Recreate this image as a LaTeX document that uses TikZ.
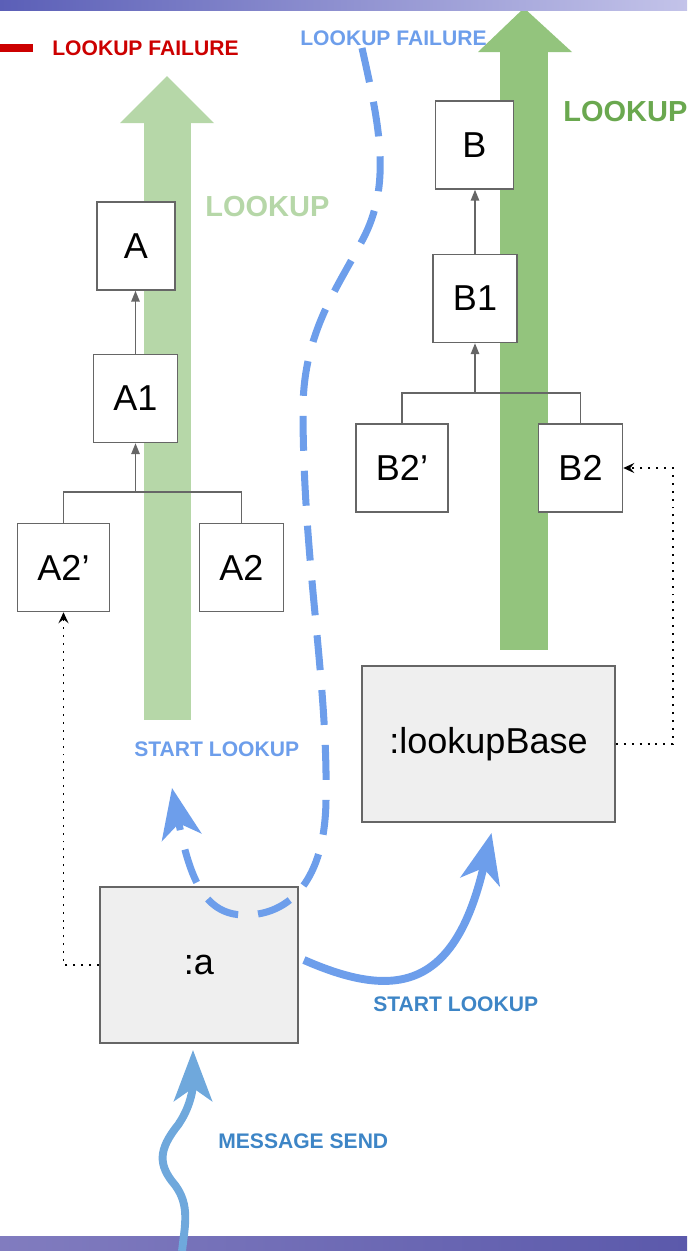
\documentclass[tikz,border=0pt]{standalone}
\usepackage{fontspec}
\setmainfont{Liberation Sans}
\usetikzlibrary{arrows.meta, calc}

\definecolor{boxgray}{HTML}{666666}
\definecolor{objfill}{HTML}{EFEFEF}
\definecolor{lookupgreen}{HTML}{93C47D}
\definecolor{lookuptext}{HTML}{6AA84F}
\definecolor{lookuplight}{HTML}{B6D7A8}
\definecolor{callblue}{HTML}{6D9EEB}
\definecolor{sendblue}{HTML}{6FA8DC}
\definecolor{textblue}{HTML}{3D85C6}
\definecolor{failred}{HTML}{CC0000}
\definecolor{barleft}{HTML}{5B5FB7}
\definecolor{barright}{HTML}{C3C3E9}
\definecolor{footleft}{HTML}{817CBF}
\definecolor{footright}{HTML}{5B59AB}

\tikzset{
    class-box/.style={
        draw=boxgray, fill=white, line width=0.85pt, inner xsep=0.4cm,
        minimum width=1.56cm, minimum height=1.76cm,
        font=\fontsize{20.5pt}{24pt}\selectfont
    },
    object-box/.style={
        draw=boxgray, fill=objfill, line width=1.1pt,
        minimum height=3.12cm, font=\fontsize{20.5pt}{24pt}\selectfont
    },
    tree-line/.style={draw=boxgray, line width=0.85pt},
    tree-arrow/.style={tree-line, -{Triangle[length=0.22cm, width=0.17cm]}},
    dotted-link/.style={
        draw=black, line width=1.1pt, dash pattern=on 1.1pt off 3.4pt,
        -{Stealth[length=0.22cm, width=0.2cm, inset=0.08cm]}
    },
    lookup-call/.style={
        draw=callblue, line width=4.5pt,
        -{Stealth[length=1cm, width=0.8cm, inset=0.28cm]}
    },
    message-send/.style={
        draw=sendblue, line width=4.5pt,
        -{Stealth[length=1.02cm, width=0.76cm, inset=0.26cm]}
    },
    failure-path/.style={
        draw=callblue, line width=4pt, dash pattern=on 0.7cm off 0.4cm,
        -{Stealth[length=1cm, width=0.8cm, inset=0.28cm]}
    },
    small-label/.style={anchor=west, inner sep=0, font=\fontsize{12pt}{14pt}\bfseries\selectfont},
    big-label/.style={anchor=west, inner sep=0, font=\fontsize{16.5pt}{19pt}\bfseries\selectfont},
}

\begin{document}
\begin{tikzpicture}[x=0.02cm, y=-0.02cm]
        \useasboundingbox (0,0) rectangle (687,1251);

        % LOOKUP ARROWS
        \fill[lookuplight]  (144,123) rectangle (191,720);
        \fill[lookuplight]  (120,123) -- (167,76) -- (214,123) -- cycle;
        \fill[lookupgreen]  (500,52) rectangle (548,650);
        \fill[lookupgreen]  (478,52) -- (524,8) -- (572,52) -- cycle;

        % BARS
        \shade[left color=barleft, right color=barright]   (0,0) rectangle (687,10);
        \shade[left color=footleft, right color=footright] (0,1236) rectangle (687,1251);

        % LABELS
        \draw[failred, line width=4.5pt]                     (0,48) -- (33,48);
        \node[small-label, text=failred]    (FAILLEGEND)  at (52,48)    {LOOKUP FAILURE};
        \node[small-label, text=callblue]   (FAILLABEL)   at (300,38)   {LOOKUP FAILURE};
        \node[big-label, text=lookuptext]   (LOOKUPB)     at (563,112)  {LOOKUP};
        \node[big-label, text=lookuplight]  (LOOKUPA)     at (205,207)  {LOOKUP};
        \node[small-label, text=callblue]   (STARTA)      at (134,749)  {START LOOKUP};
        \node[small-label, text=textblue]   (STARTB)      at (373,1004) {START LOOKUP};
        \node[small-label, text=textblue]   (SENDLABEL)   at (218,1141) {MESSAGE SEND};

        % CLASSES A
        \node[class-box]    (A)     at (136,246)     {A};
        \node[class-box]    (A1)    at (135.5,398.5) {A1};
        \node[class-box]    (A2p)   at (63.5,567.5)  {A2’};
        \node[class-box]    (A2)    at (241.5,567.5) {A2};
        \coordinate[]       (AJOIN) at ($(A1.south) + (0,49)$);
        \draw[tree-line]    (A2p.north) -- (A2p.north |- AJOIN) -- (A2.north |- AJOIN) -- (A2.north);
        \draw[tree-arrow]   (AJOIN) -- (A1.south);
        \draw[tree-arrow]   (A1.north) -- (A1.north |- A.south);

        % CLASSES B
        \node[class-box]    (B)     at (474.5,145)   {B};
        \node[class-box]    (B1)    at (475,298.5)   {B1};
        \node[class-box]    (B2p)   at (402,468)     {B2’};
        \node[class-box]    (B2)    at (580.5,468)   {B2};
        \coordinate[]       (BJOIN) at ($(B1.south) + (0,50)$);
        \draw[tree-line]    (B2p.north) -- (B2p.north |- BJOIN) -- (B2.north |- BJOIN) -- (B2.north);
        \draw[tree-arrow]   (BJOIN) -- (B1.south);
        \draw[tree-arrow]   (B1.north) -- (B1.north |- B.south);

        % OBJECTS
        \node[object-box, minimum width=5.06cm] (lookupBase) at (488.5,744) {:lookupBase};
        \node[object-box, minimum width=3.96cm] (a)          at (199,965)   {:a};

        % CLASS LINKS
        \coordinate[]       (BTURN) at ($(lookupBase.east) + (57,0)$);
        \draw[dotted-link]  (a.west) -| (A2p.south);
        \draw[dotted-link]  (lookupBase.east) -- (BTURN) |- (B2.east);

        % MESSAGE SEND
        \coordinate[]       (MSGSTART) at (182,1251);
        \draw[message-send] (MSGSTART) .. controls (185,1225) and (190,1205) .. (175,1185)
                            .. controls (158,1165) and (158,1150) .. (178,1125)
                            .. controls (192,1105) and (193,1085) .. ($(a.south) + (-6,6)$);

        % START LOOKUP
        \draw[lookup-call]  ($(a.east) + (5,-5)$) .. controls (395,1000) and (455,990)
                            .. ($(lookupBase.south) + (3,10)$);

        % LOOKUP FAILURE
        \coordinate[]       (FAILTOP) at (362,48);
        \coordinate[]       (FAILTIP) at (172,788);
        \draw[failure-path] (FAILTOP) .. controls (378,120) and (392,180) .. (365,235)
                            .. controls (340,285) and (303,330) .. (303,410)
                            .. controls (303,560) and (328,680) .. (326,800)
                            .. controls (325,880) and (290,915) .. (245,915)
                            .. controls (205,915) and (190,880) .. (FAILTIP);

    \end{tikzpicture}
\end{document}
